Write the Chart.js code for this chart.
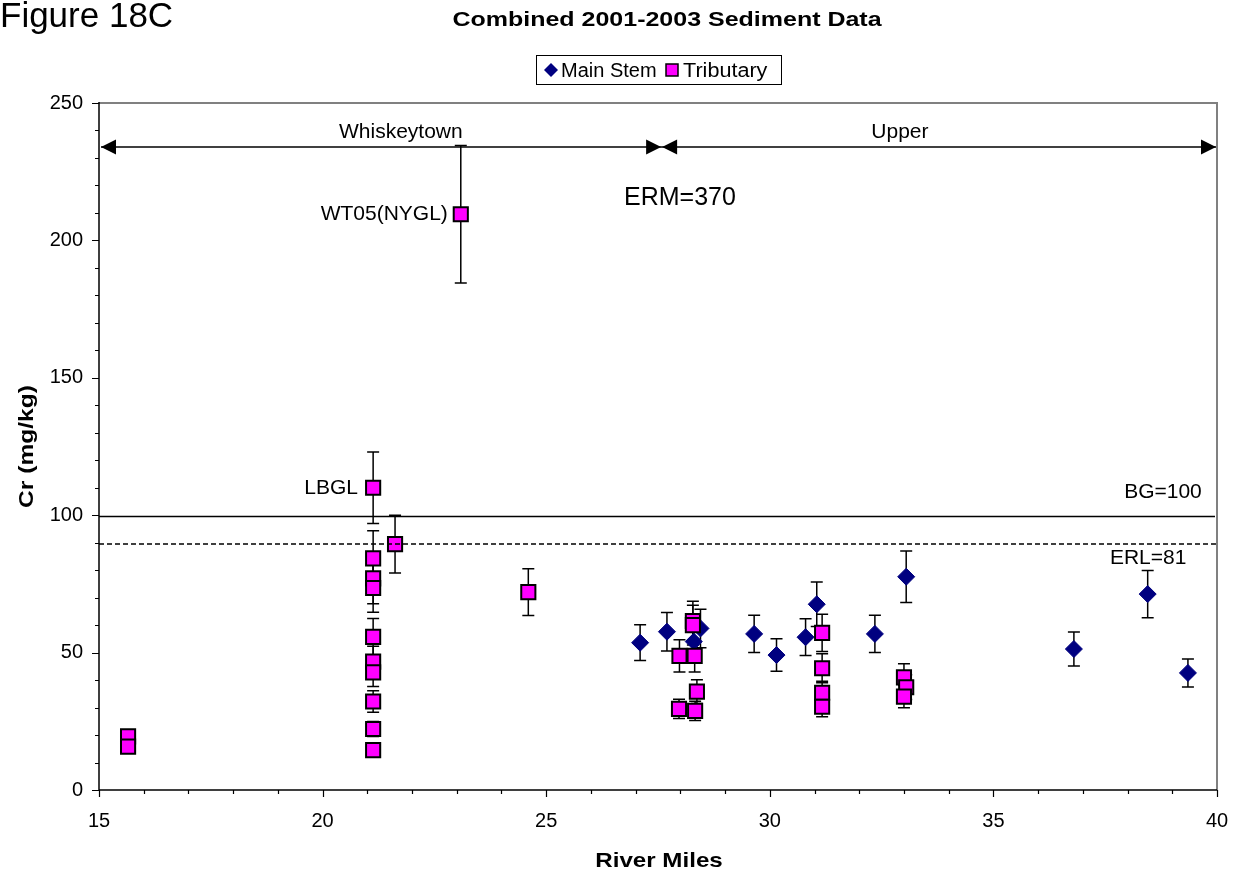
<!DOCTYPE html>
<html>
<head>
<meta charset="utf-8">
<script src="https://cdn.jsdelivr.net/npm/chart.js@4"></script>
<style>
  body { margin: 0; background: #fff; }
  #wrap { width: 1238px; height: 876px; }
</style>
</head>
<body>
<div id="wrap"><canvas id="mainChart" width="1238" height="876"></canvas></div>
<script>
// data
const mainStemX = [27.1, 27.7, 28.3, 28.45, 29.65, 30.15, 30.8, 31.05, 32.35, 33.05, 36.8, 38.45, 39.35];
const mainStemY = [53.6, 57.6, 54.0, 58.8, 56.8, 49.1, 55.6, 67.6, 56.8, 77.6, 51.3, 71.3, 42.6];
const mainStemErr = [6.5, 7.0, 6.5, 7.0, 6.8, 5.9, 6.7, 8.1, 6.8, 9.4, 6.2, 8.6, 5.1];

const tribX = [15.65, 15.65, 21.13, 21.13, 21.13, 21.13, 21.13, 21.13, 21.13, 21.13, 21.13, 21.13,
               21.62, 23.09, 24.6, 27.98, 28.32, 28.28, 28.28, 28.37, 27.97, 28.33,
               31.17, 31.17, 31.17, 31.17, 33.0, 33.05, 33.0];
const tribY = [19.5, 15.8, 110, 84.3, 77, 73.5, 55.7, 46.7, 42.8, 32.2, 22.2, 14.5,
               89.5, 209.5, 72, 48.8, 48.8, 61.5, 60, 35.8, 29.5, 28.8,
               57.2, 44.3, 35.4, 30.3, 41, 37.4, 34];
const tribErr = [0, 0, 13, 10, 9.2, 8.8, 6.7, 5.6, 5.1, 3.9, 2.7, 1.7,
                 10.5, 25, 8.5, 5.9, 5.9, 7.2, 7.2, 4.3, 3.5, 3.5,
                 6.8, 5.3, 4.2, 3.6, 4.9, 4.5, 4.1];

const xTicks = [15, 20, 25, 30, 35, 40];
const yTicks = [0, 50, 100, 150, 200, 250];

const bgLevel = 99.5;
const erlLevel = 89.5;
const regionSplit = 27.57;
const arrowLevel = 234;

const FONT = "'Liberation Sans', Arial, Helvetica, sans-serif";

function toPoints(xs, ys) {
    return xs.map((x, i) => ({ x: x, y: ys[i] }));
}

const errorSets = [
    { xs: mainStemX, ys: mainStemY, err: mainStemErr },
    { xs: tribX, ys: tribY, err: tribErr }
];

// bold labels in the original are drawn a bit wider than the plain font
function wideText(ctx, text, x, y, stretch, angle) {
    ctx.save();
    ctx.translate(x, y);
    if (angle) ctx.rotate(angle);
    ctx.scale(stretch, 1);
    ctx.fillText(text, 0, 0);
    ctx.restore();
}

const decorPlugin = {
    id: 'decor',
    beforeDraw(chart) {
        const ctx = chart.ctx;
        ctx.save();
        ctx.fillStyle = '#fff';
        ctx.fillRect(0, 0, chart.width, chart.height);
        ctx.restore();
    },
    beforeDatasetsDraw(chart) {
        const ctx = chart.ctx;
        const xs = chart.scales.x, ys = chart.scales.y;
        ctx.save();
        ctx.strokeStyle = '#000';
        ctx.lineWidth = 1.5;
        errorSets.forEach(set => {
            set.xs.forEach((xv, i) => {
                const e = set.err[i];
                if (!e) return;
                const px = xs.getPixelForValue(xv);
                const top = ys.getPixelForValue(set.ys[i] + e);
                const bot = ys.getPixelForValue(set.ys[i] - e);
                ctx.beginPath();
                ctx.moveTo(px, top); ctx.lineTo(px, bot);
                ctx.moveTo(px - 6, top); ctx.lineTo(px + 6, top);
                ctx.moveTo(px - 6, bot); ctx.lineTo(px + 6, bot);
                ctx.stroke();
            });
        });
        ctx.restore();
    },
    afterDatasetsDraw(chart) {
        const ctx = chart.ctx;
        const xs = chart.scales.x, ys = chart.scales.y;
        const a = chart.chartArea;
        ctx.save();

        // reference lines
        ctx.strokeStyle = '#000';
        ctx.lineWidth = 1.5;
        let y = ys.getPixelForValue(bgLevel);
        ctx.beginPath(); ctx.moveTo(a.left, y); ctx.lineTo(a.right - 2, y); ctx.stroke();
        y = ys.getPixelForValue(erlLevel);
        ctx.setLineDash([5, 3]);
        ctx.beginPath(); ctx.moveTo(a.left, y); ctx.lineTo(a.right, y); ctx.stroke();
        ctx.setLineDash([]);

        // region arrows
        const ay = ys.getPixelForValue(arrowLevel);
        const xl = xs.getPixelForValue(15) + 2;
        const xm = xs.getPixelForValue(regionSplit);
        const xr = xs.getPixelForValue(40) - 1;
        ctx.lineWidth = 1.5;
        ctx.beginPath();
        ctx.moveTo(xl, ay); ctx.lineTo(xr, ay);
        ctx.stroke();
        ctx.fillStyle = '#000';
        const head = (tip, dir) => {
            ctx.beginPath();
            ctx.moveTo(tip, ay);
            ctx.lineTo(tip - dir * 15, ay - 7.5);
            ctx.lineTo(tip - dir * 15, ay + 7.5);
            ctx.closePath();
            ctx.fill();
        };
        head(xl, -1); head(xm, 1); head(xm + 1, -1); head(xr, 1);

        // annotations
        ctx.fillStyle = '#000';
        ctx.textBaseline = 'middle';
        ctx.font = '21px ' + FONT;
        ctx.textAlign = 'center';
        ctx.fillText('Whiskeytown', xs.getPixelForValue(21.75), ys.getPixelForValue(239.4));
        ctx.fillText('Upper', xs.getPixelForValue(32.91), ys.getPixelForValue(239.4));
        ctx.textAlign = 'right';
        ctx.fillText('WT05(NYGL)', xs.getPixelForValue(22.8), ys.getPixelForValue(209.5));
        ctx.fillText('LBGL', xs.getPixelForValue(20.79), ys.getPixelForValue(110));
        ctx.fillText('BG=100', xs.getPixelForValue(39.66), ys.getPixelForValue(108.4));
        ctx.textAlign = 'center';
        ctx.fillText('ERL=81', xs.getPixelForValue(38.46), ys.getPixelForValue(84.4));
        ctx.font = '25px ' + FONT;
        ctx.textAlign = 'left';
        ctx.fillText('ERM=370', xs.getPixelForValue(26.74), ys.getPixelForValue(215.4));

        // plot frame
        ctx.strokeStyle = '#808080';
        ctx.lineWidth = 2;
        ctx.beginPath();
        ctx.moveTo(a.left, a.top); ctx.lineTo(a.right, a.top); ctx.lineTo(a.right, a.bottom);
        ctx.stroke();
        ctx.strokeStyle = '#000';
        ctx.lineWidth = 1.5;
        ctx.beginPath();
        ctx.moveTo(a.left, a.top - 1); ctx.lineTo(a.left, a.bottom); ctx.lineTo(a.right, a.bottom);
        ctx.stroke();

        // tick marks
        ctx.lineWidth = 1.2;
        ctx.beginPath();
        for (let v = 0; v <= 250; v += 10) {
            const py = Math.round(ys.getPixelForValue(v)) + 0.5;
            const len = v % 50 === 0 ? 7 : 4;
            ctx.moveTo(a.left - len, py); ctx.lineTo(a.left, py);
        }
        for (let v = 15; v <= 40; v += 1) {
            const px = Math.round(xs.getPixelForValue(v)) + 0.5;
            const len = v % 5 === 0 ? 7 : 4;
            ctx.moveTo(px, a.bottom); ctx.lineTo(px, a.bottom + len);
        }
        ctx.stroke();

        // legend
        ctx.lineWidth = 1;
        ctx.strokeStyle = '#000';
        ctx.strokeRect(536.5, 55.5, 245, 29);
        ctx.fillStyle = '#000080';
        ctx.beginPath();
        ctx.moveTo(551, 63); ctx.lineTo(558, 70); ctx.lineTo(551, 77); ctx.lineTo(544, 70);
        ctx.closePath(); ctx.fill();
        ctx.fillStyle = '#ff00ff';
        ctx.fillRect(666, 64, 12, 12);
        ctx.lineWidth = 1.5;
        ctx.strokeRect(666, 64, 12, 12);
        ctx.fillStyle = '#000';
        ctx.font = '20px ' + FONT;
        ctx.textAlign = 'left';
        ctx.fillText('Main Stem', 561, 71);
        wideText(ctx, 'Tributary', 683, 71, 1.08);

        // titles
        ctx.font = 'bold 21px ' + FONT;
        ctx.textAlign = 'center';
        wideText(ctx, 'Combined 2001-2003 Sediment Data', 667, 20, 1.19);
        wideText(ctx, 'River Miles', (a.left + a.right) / 2 + 1, 861, 1.15);
        wideText(ctx, 'Cr (mg/kg)', 27, (a.top + a.bottom) / 2, 1.17, -Math.PI / 2);
        ctx.textBaseline = 'alphabetic';
        ctx.font = '35px ' + FONT;
        ctx.textAlign = 'left';
        ctx.fillText('Figure 18C', 0, 27);

        ctx.restore();
    }
};

new Chart(document.getElementById('mainChart'), {
    type: 'scatter',
    data: {
        datasets: [
            {
                label: 'Main Stem',
                data: toPoints(mainStemX, mainStemY),
                pointStyle: 'rectRot',
                pointRadius: 8.5,
                backgroundColor: '#000080',
                borderColor: '#000080',
                borderWidth: 1,
                order: 2
            },
            {
                label: 'Tributary',
                data: toPoints(tribX, tribY),
                pointStyle: 'rect',
                pointRadius: 10,
                backgroundColor: '#ff00ff',
                borderColor: '#000',
                borderWidth: 2,
                order: 1
            }
        ]
    },
    options: {
        responsive: false,
        animation: false,
        devicePixelRatio: 1,
        layout: { padding: { top: 103, right: 21, left: 0, bottom: 0 } },
        plugins: {
            legend: { display: false },
            title: { display: false },
            tooltip: { enabled: false }
        },
        scales: {
            x: {
                type: 'linear',
                min: 15,
                max: 40,
                afterFit: s => { s.height = 86; s.paddingLeft = 0; s.paddingRight = 0; },
                afterBuildTicks: s => { s.ticks = xTicks.map(v => ({ value: v })); },
                grid: { display: false, drawTicks: false },
                border: { display: false },
                ticks: { color: '#000', font: { family: FONT, size: 20 }, padding: 19, maxRotation: 0 },
                title: { display: false }
            },
            y: {
                type: 'linear',
                min: 0,
                max: 250,
                afterFit: s => { s.width = 99; s.paddingTop = 0; s.paddingBottom = 0; },
                afterBuildTicks: s => { s.ticks = yTicks.map(v => ({ value: v })); },
                grid: { display: false, drawTicks: false },
                border: { display: false },
                ticks: { color: '#000', font: { family: FONT, size: 20 }, padding: 16 },
                title: { display: false }
            }
        }
    },
    plugins: [decorPlugin]
});
</script>
</body>
</html>
